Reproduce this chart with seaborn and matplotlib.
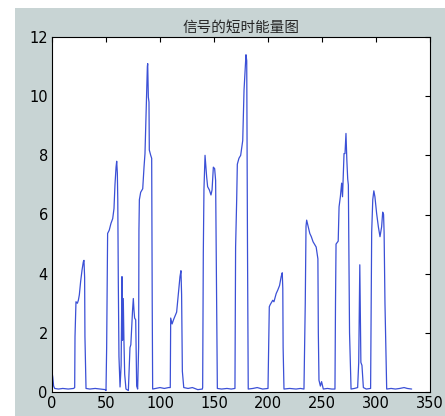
import matplotlib
matplotlib.use('Agg')
import matplotlib.pyplot as plt
import seaborn as sns
import pandas as pd

# short-time energy (frame index, energy)
frames = [
    0, 0.7, 1.5, 2.5, 6, 10, 15, 20, 21,
    21.3, 22.2, 23.5, 24.4, 25.3, 26.5, 27.8, 29, 29.6, 30.2, 30.5, 31.5,
    35, 40, 45, 49.5, 50,
    50.6, 51.5, 53, 54.6, 56.2, 57.4, 58.3, 59.3, 59.9, 60.5, 60.9, 61.4, 62, 63,
    64, 64.8, 65.3, 66, 66.6, 67.3, 68.5, 70.7, 72.2, 73, 73.8, 74.6, 75.3, 75.9,
    76.5, 77.5, 78.4, 79.3,
    80.2, 80.5, 80.9, 82.1, 84, 85.2, 86.1, 87, 87.7, 88.3, 88.6, 89.2, 89.8,
    90.1, 91.4, 92.3, 92.8, 93.2,
    96, 100, 104, 108, 109.5,
    109.9, 111.2, 112.6, 115.4, 117, 118.5, 119.4, 120, 120.7, 122,
    126, 130, 135, 139.2,
    139.5, 140.1, 140.7, 141.7, 142.3, 143.2, 144.1, 145.7, 147.2, 148.2, 149.4,
    150.6, 151.5, 152.5, 153.1,
    157, 162, 166, 169.4,
    170, 171, 171.6, 173.1, 174.7, 176.6, 177.8, 178.8, 179.6, 180.3, 181, 181.7,
    186, 190, 195, 200,
    201.2, 202, 204.4, 205.5, 207.6, 209.1, 210.7, 212.2, 213.2, 213.7, 214, 214.8,
    220, 226, 230, 233.3,
    234.5, 235.2, 235.8, 237.2, 238.7, 240.1, 241.7, 243, 244.6, 246.2, 246.6,
    247.2, 248.5, 249.6, 251.2,
    255, 259, 262,
    262.5, 263, 265, 265.8, 267, 268.2, 269, 269.8, 270.4, 271.3, 272.2, 273,
    273.8, 274.4, 275.5, 276.9,
    280, 283, 284, 285, 285.5, 286, 287, 288.3,
    291, 295,
    296, 297, 298, 299, 300.6, 302.2, 303.7, 305.2, 306.2, 307, 307.5, 308.3, 309.9,
    314, 318, 322, 326, 329, 333,
]
energy = [
    0.68, 0.5, 0.2, 0.12, 0.1, 0.12, 0.1, 0.12, 0.15,
    1.87, 3.05, 3.0, 3.1, 3.28, 3.73, 4.12, 4.4, 4.45, 3.88, 1.87, 0.12,
    0.1, 0.12, 0.1, 0.08, 0.05,
    1.5, 5.36, 5.47, 5.7, 5.86, 6.2, 7.0, 7.6, 7.8, 7.4, 6.5, 3.7, 1.2, 0.17,
    0.9, 3.9, 1.75, 3.16, 1.75, 0.6, 0.1, 0.05, 1.5, 1.6, 2.2, 2.77, 3.16, 2.77,
    2.5, 2.44, 0.2, 0.1,
    1.5, 5.47, 6.5, 6.75, 6.87, 7.6, 8.06, 9.3, 10.15, 11.0, 11.1, 9.97, 9.8,
    8.18, 8.0, 7.9, 3.0, 0.1,
    0.12, 0.15, 0.12, 0.15, 0.15,
    2.5, 2.3, 2.45, 2.7, 3.3, 3.9, 4.1, 3.3, 0.7, 0.15,
    0.12, 0.15, 0.08, 0.1,
    0.15, 4.7, 6.85, 8.0, 7.7, 7.27, 6.94, 6.83, 6.66, 6.83, 7.6,
    7.55, 7.15, 3.0, 0.12,
    0.1, 0.12, 0.1, 0.12,
    4.9, 6.5, 7.7, 7.9, 8.0, 8.5, 10.2, 10.9, 11.4, 11.2, 5.0, 0.1,
    0.12, 0.15, 0.1, 0.12,
    2.88, 2.95, 3.1, 3.05, 3.33, 3.45, 3.6, 3.9, 4.03, 3.5, 1.5, 0.1,
    0.12, 0.1, 0.12, 0.1,
    3.0, 5.6, 5.81, 5.6, 5.36, 5.25, 5.08, 5.0, 4.9, 4.5, 2.0,
    0.4, 0.2, 0.35, 0.1,
    0.12, 0.1, 0.1,
    3.0, 5.0, 5.1, 6.26, 6.6, 7.06, 6.6, 7.5, 8.06, 8.06, 8.74, 7.84,
    7.2, 7.0, 2.0, 0.1,
    0.12, 0.15, 1.0, 4.3, 2.6, 1.0, 0.9, 0.15,
    0.1, 0.12,
    5.4, 6.5, 6.8, 6.6, 6.03, 5.58, 5.25, 5.58, 6.08, 6.0, 5.4, 3.0, 0.1,
    0.12, 0.1, 0.12, 0.15, 0.12, 0.1,
]
x_ticks = [0, 50, 100, 150, 200, 250, 300, 350]
y_ticks = [0, 2, 4, 6, 8, 10, 12]

df = pd.DataFrame({'frame': frames, 'energy': energy})

sns.set_style('white')
plt.rcParams['font.family'] = ['Noto Sans CJK SC', 'DejaVu Sans']
plt.rcParams['xtick.direction'] = 'in'
plt.rcParams['ytick.direction'] = 'in'

bg = '#c8d4d4'
fig = plt.figure(figsize=(4.45, 4.16), dpi=100, facecolor=bg)
# thin white strips on the left and top edge of the screenshot
fig.add_artist(plt.Rectangle((0, 0), 15 / 445, 1, transform=fig.transFigure,
                             facecolor='white', edgecolor='none'))
fig.add_artist(plt.Rectangle((0, 1 - 8 / 416), 1, 8 / 416, transform=fig.transFigure,
                             facecolor='white', edgecolor='none'))
ax = fig.add_axes([52 / 445, 24 / 416, 378 / 445, 355 / 416])
ax.set_facecolor('white')

sns.lineplot(data=df, x='frame', y='energy', ax=ax, color='#3b50d6',
             linewidth=0.9, sort=False, estimator=None)

ax.set_xlim(0, 350)
ax.set_ylim(0, 12)
ax.set_xticks(x_ticks)
ax.set_yticks(y_ticks)
ax.tick_params(axis='both', which='both', top=True, right=True, length=3.5,
               width=0.8, labelsize=10.5, pad=3, colors='black')
for lab in ax.get_xticklabels() + ax.get_yticklabels():
    lab.set_family(['Liberation Sans Narrow', 'DejaVu Sans'])
for s in ax.spines.values():
    s.set_color('black')
    s.set_linewidth(0.8)
ax.set_xlabel('')
ax.set_ylabel('')
ax.set_title('信号的短时能量图', fontsize=10.5, pad=4)

fig.savefig('out.png', dpi=100, facecolor=fig.get_facecolor())
